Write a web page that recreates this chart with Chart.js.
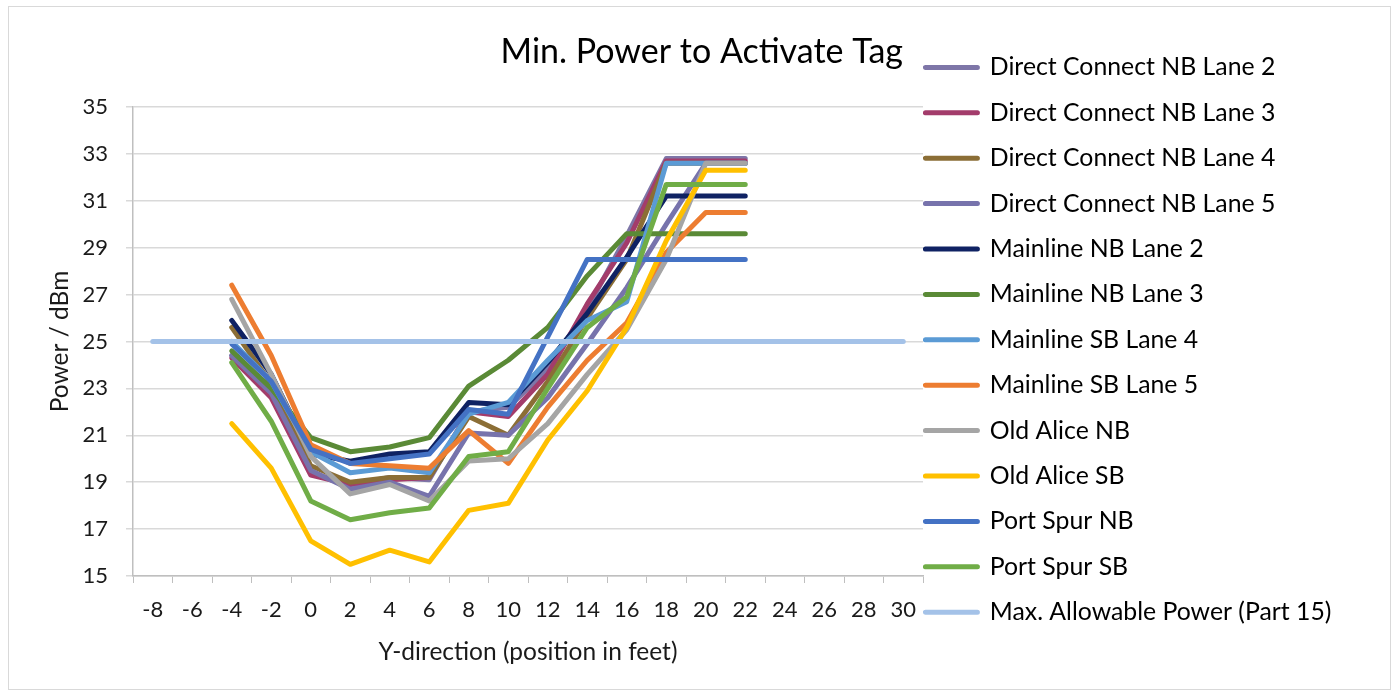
<!DOCTYPE html>
<html>
<head>
<meta charset="utf-8">
<script src="https://cdn.jsdelivr.net/npm/chart.js@4"></script>
<style>
  body { margin: 0; background: #fff; }
  #wrap { position: absolute; left: 0; top: 0; width: 1395px; height: 694px; }
  #frame { position: absolute; left: 8px; top: 6px; width: 1381px; height: 682px; border: 1px solid #d9d9d9; pointer-events: none; }
</style>
</head>
<body>
<div id="wrap"><canvas id="myChart"></canvas></div>
<div id="frame"></div>
<script>
const positions = ["-8", "-6", "-4", "-2", "0", "2", "4", "6", "8", "10", "12", "14", "16", "18", "20", "22", "24", "26", "28", "30"]

// values at -8 ... 30 (null where nothing was measured)
const dcNbLane2 = [null, null, 24.4, 22.8, 19.4, 18.9, 19.2, 19.1, 22.0, 22.2, 23.8, 26.4, 29.5, 32.8, 32.8, 32.8, null, null, null, null]
const dcNbLane3 = [null, null, 24.3, 22.6, 19.3, 18.9, 19.1, 19.2, 22.0, 21.8, 23.6, 26.6, 29.2, 32.7, 32.7, 32.7, null, null, null, null]
const dcNbLane4 = [null, null, 25.6, 23.2, 19.7, 19.0, 19.2, 19.2, 21.8, 21.0, 23.3, 26.0, 28.5, 32.6, 32.6, 32.6, null, null, null, null]
const dcNbLane5 = [null, null, 24.4, 22.8, 19.5, 18.7, 19.0, 18.4, 21.1, 21.0, 22.6, 24.9, 27.3, 30.0, 32.6, 32.6, null, null, null, null]
const mainNbLane2 = [null, null, 25.9, 23.6, 20.2, 19.9, 20.2, 20.3, 22.4, 22.3, 24.1, 26.2, 28.6, 31.2, 31.2, 31.2, null, null, null, null]
const mainNbLane3 = [null, null, 24.6, 23.0, 20.9, 20.3, 20.5, 20.9, 23.1, 24.2, 25.6, 27.8, 29.6, 29.6, 29.6, 29.6, null, null, null, null]
const mainSbLane4 = [null, null, 25.0, 23.3, 20.3, 19.4, 19.6, 19.4, 21.9, 22.4, 24.2, 25.9, 26.7, 32.6, 32.6, 32.6, null, null, null, null]
const mainSbLane5 = [null, null, 27.4, 24.4, 20.6, 19.8, 19.7, 19.6, 21.2, 19.8, 22.2, 24.2, 25.8, 28.8, 30.5, 30.5, null, null, null, null]
const oldAliceNb = [null, null, 26.8, 23.6, 20.1, 18.5, 18.9, 18.2, 19.9, 20.0, 21.5, 23.6, 25.5, 28.5, 32.6, 32.6, null, null, null, null]
const oldAliceSb = [null, null, 21.5, 19.6, 16.5, 15.5, 16.1, 15.6, 17.8, 18.1, 20.8, 22.9, 25.6, 29.3, 32.3, 32.3, null, null, null, null]
const portSpurNb = [null, null, 24.9, 23.3, 20.4, 19.8, 20.0, 20.2, 22.1, 21.9, 25.2, 28.5, 28.5, 28.5, 28.5, 28.5, null, null, null, null]
const portSpurSb = [null, null, 24.1, 21.6, 18.2, 17.4, 17.7, 17.9, 20.1, 20.3, 23.0, 25.6, 26.9, 31.7, 31.7, 31.7, null, null, null, null]
const maxAllowed = [25, 25, 25, 25, 25, 25, 25, 25, 25, 25, 25, 25, 25, 25, 25, 25, 25, 25, 25, 25]

const series = [
  ["Direct Connect NB Lane 2", dcNbLane2, "#7e76a8"],
  ["Direct Connect NB Lane 3", dcNbLane3, "#a33c6b"],
  ["Direct Connect NB Lane 4", dcNbLane4, "#8b6e36"],
  ["Direct Connect NB Lane 5", dcNbLane5, "#7773ac"],
  ["Mainline NB Lane 2", mainNbLane2, "#0f2263"],
  ["Mainline NB Lane 3", mainNbLane3, "#5a8a36"],
  ["Mainline SB Lane 4", mainSbLane4, "#5b9bd5"],
  ["Mainline SB Lane 5", mainSbLane5, "#ed7d31"],
  ["Old Alice NB", oldAliceNb, "#a5a5a5"],
  ["Old Alice SB", oldAliceSb, "#ffc000"],
  ["Port Spur NB", portSpurNb, "#4472c4"],
  ["Port Spur SB", portSpurSb, "#70ad47"],
  ["Max. Allowable Power (Part 15)", maxAllowed, "#a4c2e8"]
]

const legendSize = 24.8
const legendLeft = 922
const measure = document.createElement("canvas").getContext("2d")
measure.font = legendSize + "px Lato"
const longest = Math.max(...series.map(s => measure.measureText(s[0]).width))
const padRight = Math.max(4, 1395 - legendLeft - (2.4 + 52 + legendSize / 2 + longest) - 11)

const ctx = document.querySelector("#myChart")

const data = {
  labels: positions,
  datasets: series.map((s, i) => ({
    label: s[0],
    data: s[1],
    borderColor: s[2],
    backgroundColor: s[2],
    borderWidth: 5,
    borderCapStyle: "round",
    borderJoinStyle: "round",
    pointRadius: 0,
    tension: 0,
    order: series.length - i
  }))
}

// move the title a little left of the plot's right edge
const titleShift = {
  id: "titleShift",
  afterLayout(chart) {
    chart.titleBlock.left -= 20
    chart.titleBlock.right -= 20
  }
}

const options = {
  responsive: true,
  maintainAspectRatio: false,
  animation: false,
  layout: { padding: { top: 30, left: 20, right: padRight, bottom: 26.2 } },
  plugins: {
    title: {
      display: true,
      text: "Min. Power to Activate Tag",
      fullSize: false,
      align: "end",
      color: "#000",
      font: { family: "Lato", size: 34, weight: "normal" },
      padding: { top: 1.6, bottom: 34.6 }
    },
    legend: {
      position: "right",
      align: "center",
      maxWidth: 700,
      labels: {
        color: "#000",
        font: { family: "Lato", size: legendSize, lineHeight: 43 / legendSize },
        usePointStyle: true,
        pointStyle: "line",
        pointStyleWidth: 52,
        padding: 2.4,
        sort: (a, b) => a.datasetIndex - b.datasetIndex,
        generateLabels(chart) {
          const items = Chart.defaults.plugins.legend.labels.generateLabels(chart)
          items.forEach(it => { it.text = [it.text]; it.lineCap = "round" })
          return items
        }
      }
    },
    tooltip: { enabled: false }
  },
  scales: {
    x: {
      offset: true,
      afterFit: s => { s.height = 91.8 },
      grid: { offset: true, drawOnChartArea: false, drawTicks: true, tickLength: 7, color: "#bfbfbf" },
      border: { color: "#bfbfbf", width: 1.5 },
      ticks: { color: "#1a1a1a", padding: 14, maxRotation: 0, autoSkip: false, font: { family: "Lato", size: 22 } },
      title: {
        display: true,
        text: "Y-direction (position in feet)",
        color: "#1a1a1a",
        font: { family: "Lato", size: 24.5 },
        padding: { top: 4, bottom: 1.1 }
      }
    },
    y: {
      min: 15,
      max: 35,
      afterFit: s => { s.width = 113 },
      grid: { color: "#d9d9d9", lineWidth: 1.5, tickLength: 7 },
      border: { color: "#bfbfbf", width: 1.5 },
      ticks: { stepSize: 2, color: "#1a1a1a", padding: 18, font: { family: "Lato", size: 22 } },
      title: {
        display: true,
        text: "Power / dBm",
        color: "#1a1a1a",
        font: { family: "Lato", size: 24.5 },
        padding: { top: 25.3, bottom: 4 }
      }
    }
  }
}

const config = {
  type: "line",
  data: data,
  options: options,
  plugins: [titleShift]
}

const chart = new Chart(ctx, config)
</script>
</body>
</html>
